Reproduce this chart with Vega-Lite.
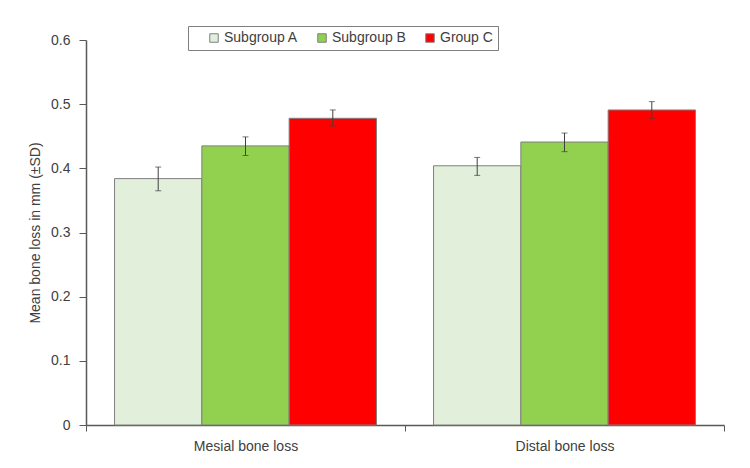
{
  "$schema": "https://vega.github.io/schema/vega-lite/v6.json",
  "width": 638,
  "height": 385,
  "autosize": "none",
  "padding": {"left": 86, "top": 40, "right": 26, "bottom": 43},
  "background": "white",
  "config": {
    "view": {"stroke": null},
    "font": "Liberation Sans",
    "axis": {"labelFont": "Liberation Sans", "titleFont": "Liberation Sans", "labelColor": "#404040", "titleColor": "#404040", "domainColor": "#595959", "tickColor": "#595959"},
    "legend": {"labelFont": "Liberation Sans"}
  },
  "data": {
    "values": [
      {"site": "Mesial bone loss", "group": "Subgroup A", "mean": 0.384, "lo": 0.365, "hi": 0.402},
      {"site": "Mesial bone loss", "group": "Subgroup B", "mean": 0.435, "lo": 0.420, "hi": 0.449},
      {"site": "Mesial bone loss", "group": "Group C", "mean": 0.478, "lo": 0.466, "hi": 0.491},
      {"site": "Distal bone loss", "group": "Subgroup A", "mean": 0.404, "lo": 0.389, "hi": 0.417},
      {"site": "Distal bone loss", "group": "Subgroup B", "mean": 0.441, "lo": 0.426, "hi": 0.455},
      {"site": "Distal bone loss", "group": "Group C", "mean": 0.491, "lo": 0.478, "hi": 0.504}
    ]
  },
  "encoding": {
    "x": {
      "field": "site", "type": "nominal", "sort": ["Mesial bone loss", "Distal bone loss"],
      "scale": {"paddingInner": 0, "paddingOuter": 0},
      "axis": {"title": null, "labelAngle": 0, "labelFontSize": 14, "labelPadding": 8, "tickBand": "extent", "tickSize": 6, "domainWidth": 1.5}
    },
    "xOffset": {"field": "group", "type": "nominal", "sort": ["Subgroup A", "Subgroup B", "Group C"], "scale": {"paddingInner": 0, "paddingOuter": 0.327}}
  },
  "layer": [
    {
      "mark": {"type": "bar", "stroke": "#7f7f7f", "strokeWidth": 1},
      "encoding": {
        "y": {
          "field": "mean", "type": "quantitative",
          "scale": {"domain": [0, 0.6], "nice": false},
          "axis": {"title": "Mean bone loss in mm (±SD)", "titleFontSize": 14, "titleFontWeight": "normal", "titlePadding": 8, "labelFontSize": 14, "labelPadding": 9, "values": [0, 0.1, 0.2, 0.3, 0.4, 0.5, 0.6], "format": "~g", "grid": false, "tickSize": 7, "domainWidth": 1.5}
        },
        "color": {
          "field": "group", "type": "nominal", "sort": ["Subgroup A", "Subgroup B", "Group C"],
          "scale": {"domain": ["Subgroup A", "Subgroup B", "Group C"], "range": ["#e2efda", "#92d050", "#ff0000"]},
          "legend": {
            "title": null, "orient": "none", "direction": "horizontal", "legendX": 102, "legendY": -14,
            "symbolType": "square", "symbolSize": 72, "symbolStrokeColor": "#7f7f7f", "symbolStrokeWidth": 1,
            "labelFontSize": 14, "labelColor": "#404040", "columnPadding": 3, "labelOffset": 3,
            "symbolOffset": 14,
            "strokeColor": "#7f7f7f", "fillColor": "white", "padding": 5
          }
        }
      }
    },
    {
      "mark": {"type": "rule", "color": "#404040", "strokeWidth": 1},
      "encoding": {"y": {"field": "lo", "type": "quantitative"}, "y2": {"field": "hi"}}
    },
    {
      "mark": {"type": "tick", "color": "#404040", "thickness": 1, "size": 6},
      "encoding": {"y": {"field": "lo", "type": "quantitative"}}
    },
    {
      "mark": {"type": "tick", "color": "#404040", "thickness": 1, "size": 6},
      "encoding": {"y": {"field": "hi", "type": "quantitative"}}
    }
  ]
}
